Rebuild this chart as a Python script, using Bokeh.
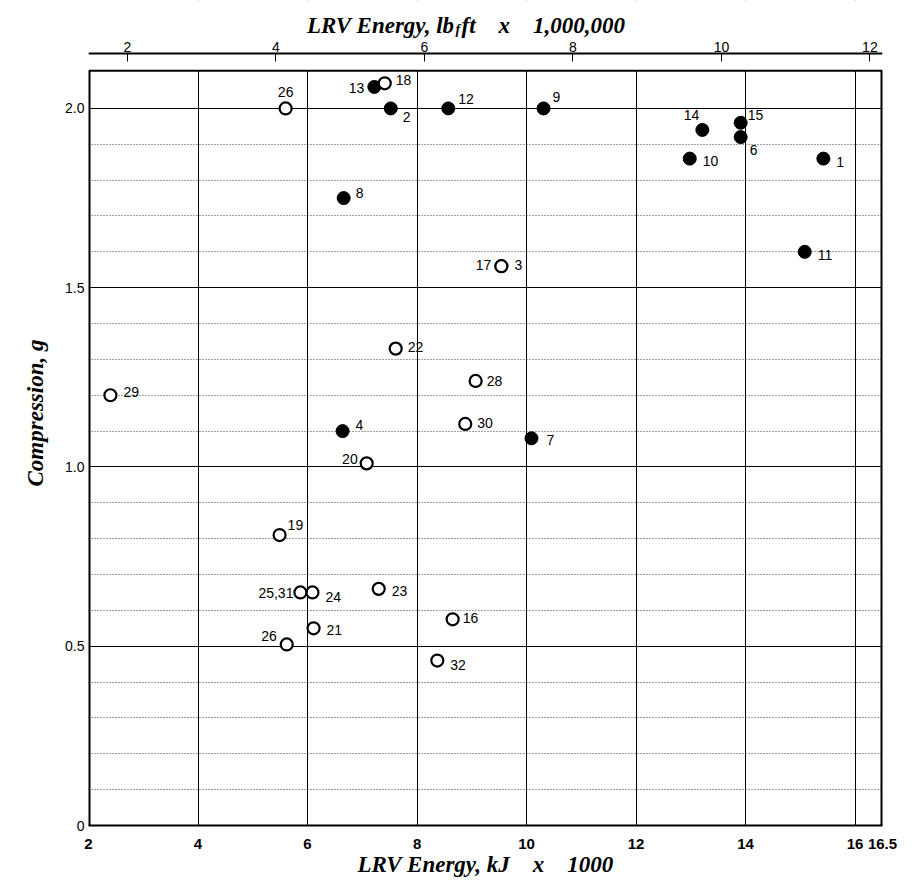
from bokeh.plotting import figure
from bokeh.models import LinearAxis, Range1d, FixedTicker, ColumnDataSource, Title
from bokeh.core.properties import value
from bokeh.embed import file_html
from bokeh.resources import INLINE

# ---------------- data ----------------
# closed symbols: test id, LRV energy (kJ x 1000), compression (g)
solid_ids = ["1", "2", "3", "4", "6", "7", "8", "9", "10", "11", "12", "13", "14", "15"]
solid_energy = [15.42, 7.52, 9.54, 6.64, 13.91, 10.09, 6.66, 10.31, 12.98, 15.08, 8.57, 7.22, 13.21, 13.91]
solid_comp = [1.86, 2.00, 1.56, 1.10, 1.92, 1.08, 1.75, 2.00, 1.86, 1.60, 2.00, 2.06, 1.94, 1.96]

# open symbols
open_ids = ["16", "17", "18", "19", "20", "21", "22", "23", "24", "25,31", "26", "26", "28", "29", "30", "32"]
open_energy = [8.65, 9.54, 7.41, 5.49, 7.08, 6.11, 7.61, 7.30, 6.09, 5.87, 5.60, 5.62, 9.07, 2.40, 8.88, 8.37]
open_comp = [0.575, 1.56, 2.07, 0.81, 1.01, 0.55, 1.33, 0.66, 0.65, 0.65, 2.00, 0.505, 1.24, 1.20, 1.12, 0.46]

bottom_ticks = [2, 4, 6, 8, 10, 12, 14, 16, 16.5]
bottom_tick_labels = ["2", "4", "6", "8", "10", "12", "14", "16", "16.5"]
left_ticks = [0, 0.5, 1.0, 1.5, 2.0]
left_tick_labels = ["0", "0.5", "1.0", "1.5", "2.0"]
top_ticks = [2, 4, 6, 8, 10, 12]
top_tick_labels = ["2", "4", "6", "8", "10", "12"]
MJ_TO_MLBFT = 0.73756  # 1 MJ = 0.73756 million lbf.ft

top_title_main = "LRV Energy, lb"
top_title_sub = "f"
top_title_tail = "ft\u2003x\u20031,000,000"
bottom_title = "LRV Energy, kJ\u2003x\u20031000"
left_title = "Compression, g"

# ---------------- label placement (style: px offsets, alignment) ----------------
solid_lab_dx = [13, 12, 13, 13, 9, 15, 12, 9, 13, 13, 10, -10, -3, 7]
solid_lab_dy = [3, 9, -1, -6, 13, 2, -5, -11, 2, 3, -9, 1, -15, -8]
solid_lab_align = ["left", "left", "left", "left", "left", "left", "left", "left", "left", "left", "left",
                   "right", "right", "left"]
open_lab_dx = [10, -10, 11, 8, -9, 13, 12, 13, 13, -7, 0, -10, 11, 13, 12, 13]
open_lab_dy = [-1, -1, -3, -10, -4, 2, -2, 2, 5, 1, -16, -8, 0, -3, -1, 4]
open_lab_align = ["left", "right", "left", "left", "right", "left", "left", "left", "left", "right",
                  "center", "right", "left", "left", "left", "left"]

SERIF = "Liberation Serif"
SANS = "Liberation Sans"
TITLE_SIZE = "23px"

# ---------------- geometry ----------------
FW, FH = 794, 825            # frame: spans from the canvas top down to the bottom axis
X0, X1 = 2, 16.5
Y0, Y1 = 0, 2.301            # frame top is above the plotted box: room for top axis + title
FRAME_TOP = 2.105            # top edge of the plotted box
TOP_AXIS_AT = 2.153          # where the lbf.ft axis line sits

p = figure(frame_width=FW, frame_height=FH,
           x_range=Range1d(X0, X1), y_range=Range1d(Y0, Y1),
           output_backend="svg", toolbar_location=None,
           min_border_left=88, min_border_right=25, min_border_top=0, min_border_bottom=51)
p.outline_line_color = None
p.background_fill_color = "white"
p.border_fill_color = "white"

# grid
p.xgrid.ticker = FixedTicker(ticks=[t for t in bottom_ticks if X0 < t < X1])
p.xgrid.grid_line_color = "black"
p.xgrid.grid_line_width = 1
minor_y = [round(0.1 * i, 1) for i in range(1, 21) if i % 5 != 0]
p.ygrid.ticker = FixedTicker(ticks=[t for t in left_ticks if t > 0], minor_ticks=minor_y)
p.ygrid.grid_line_color = "black"
p.ygrid.grid_line_width = 1
p.ygrid.minor_grid_line_color = "#444444"
p.ygrid.minor_grid_line_dash = "1 2"
p.ygrid.minor_grid_line_width = 1

# bottom axis
xa = p.xaxis[0]
xa.ticker = FixedTicker(ticks=bottom_ticks)
xa.major_label_overrides = {t: s for t, s in zip(bottom_ticks, bottom_tick_labels)}
xa.major_tick_line_color = None
xa.minor_tick_line_color = None
xa.axis_line_width = 2
xa.axis_line_color = "black"
xa.major_label_text_font = SANS
xa.major_label_text_font_size = "15px"
xa.major_label_text_font_style = "bold"
xa.major_label_text_color = "black"
xa.major_label_standoff = 7
xa.axis_label = bottom_title
xa.axis_label_text_font = SERIF
xa.axis_label_text_font_style = "bold italic"
xa.axis_label_text_font_size = TITLE_SIZE
xa.axis_label_text_color = "black"
xa.axis_label_standoff = 0

# left axis
ya = p.yaxis[0]
ya.ticker = FixedTicker(ticks=left_ticks)
ya.major_label_overrides = {t: s for t, s in zip(left_ticks, left_tick_labels)}
ya.major_tick_line_color = None
ya.major_tick_in = 0
ya.major_tick_out = 0
ya.minor_tick_line_color = None
ya.minor_tick_in = 0
ya.minor_tick_out = 0
ya.axis_line_color = None
ya.major_label_text_font = SANS
ya.major_label_text_font_size = "14px"
ya.major_label_text_color = "black"
ya.major_label_standoff = 4

# left title
p.add_layout(Title(text=left_title, align="center", offset=-43, standoff=29,
                   text_font=SERIF, text_font_style="bold italic", text_font_size=TITLE_SIZE,
                   text_color="black"), "left")

# top axis (lbf.ft x 1,000,000), drawn just above the plotted box
p.extra_x_ranges = {"lbft": Range1d(X0 * MJ_TO_MLBFT, X1 * MJ_TO_MLBFT)}
top = LinearAxis(x_range_name="lbft", ticker=FixedTicker(ticks=top_ticks), fixed_location=TOP_AXIS_AT)
top.major_label_overrides = {t: s for t, s in zip(top_ticks, top_tick_labels)}
top.axis_line_width = 2
top.axis_line_color = "black"
top.major_tick_in = 8
top.major_tick_out = 0
top.major_tick_line_color = "black"
top.minor_tick_line_color = None
top.major_label_text_font = SANS
top.major_label_text_font_size = "14px"
top.major_label_text_color = "black"
top.major_label_standoff = 2
p.add_layout(top, "above")

# blank area above the plotted box (hides grid lines there)
p.quad(left=[X0], right=[X1], bottom=[FRAME_TOP], top=[Y1], fill_color="white", line_color=None)
# box edges
p.segment(x0=[X0, X1], y0=[Y0, Y0], x1=[X0, X1], y1=[FRAME_TOP, FRAME_TOP], line_color="black", line_width=4)
p.segment(x0=[X0], y0=[FRAME_TOP], x1=[X1], y1=[FRAME_TOP], line_color="black", line_width=2)

# top title with subscript f (pixel offsets from the frame's top-left corner)
title_style = dict(text_baseline="alphabetic", text_font=value(SERIF), text_font_style="bold italic",
                   text_color="black")
p.text(x=[X0], y=[Y1], text=[top_title_main], x_offset=366, y_offset=25, text_align="right",
       text_font_size=TITLE_SIZE, **title_style)
p.text(x=[X0], y=[Y1], text=[top_title_sub], x_offset=367, y_offset=29, text_align="left",
       text_font_size="14px", **title_style)
p.text(x=[X0], y=[Y1], text=[top_title_tail], x_offset=373, y_offset=25, text_align="left",
       text_font_size=TITLE_SIZE, **title_style)

# points
solid_src = ColumnDataSource(dict(x=solid_energy, y=solid_comp))
open_src = ColumnDataSource(dict(x=open_energy, y=open_comp))
p.scatter("x", "y", source=solid_src, marker="circle", size=13, fill_color="black", line_color="black")
p.scatter("x", "y", source=open_src, marker="circle", size=12, fill_color="white", line_color="black",
          line_width=2.2)


def add_labels(ids, xs, ys, dxs, dys, als):
    for align in ("left", "right", "center"):
        idx = [i for i, a in enumerate(als) if a == align]
        if not idx:
            continue
        src = ColumnDataSource(dict(x=[xs[i] for i in idx], y=[ys[i] for i in idx],
                                    t=[ids[i] for i in idx], dx=[dxs[i] for i in idx],
                                    dy=[dys[i] for i in idx]))
        p.text("x", "y", text="t", source=src, x_offset="dx", y_offset="dy",
               text_align=align, text_baseline="middle", text_font=value(SANS),
               text_font_size="14px", text_color="black")


add_labels(solid_ids, solid_energy, solid_comp, solid_lab_dx, solid_lab_dy, solid_lab_align)
add_labels(open_ids, open_energy, open_comp, open_lab_dx, open_lab_dy, open_lab_align)

open("out.html", "w").write(file_html(p, INLINE))
